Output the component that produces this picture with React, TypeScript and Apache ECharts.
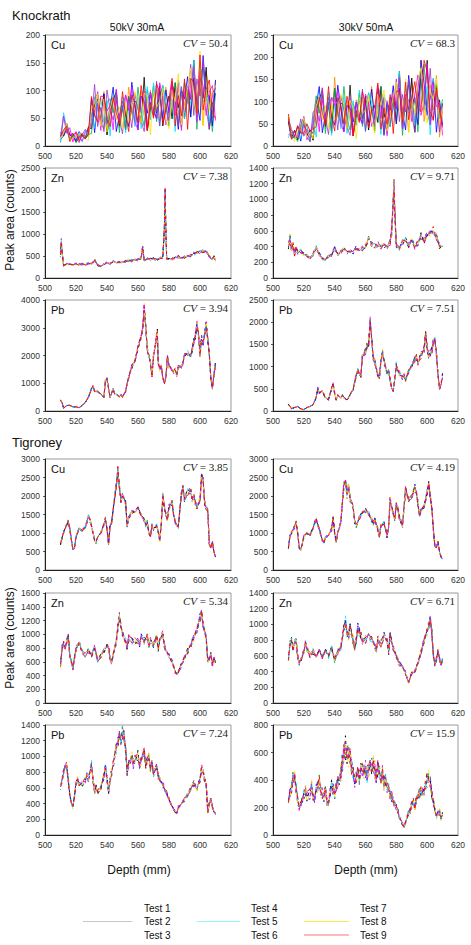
import { useEffect, useRef } from "react";
import * as echarts from "echarts";

// ---------- data ----------
const TESTS = ["Test 1", "Test 2", "Test 3", "Test 4", "Test 5", "Test 6", "Test 7", "Test 8", "Test 9"];
const TEST_COLORS = ["#ff8c00", "#000000", "#00b050", "#0000ff", "#00e0ff", "#9933cc", "#ff00ff", "#ffe000", "#ff0000"];

const X_TICKS = [500, 520, 540, 560, 580, 600, 620];

// sampling grid (depth, mm) for the noisy Knockrath Cu traces
const DEPTH_2MM = Array.from({ length: 51 }, (_, i) => 510 + 2 * i);

// Knockrath Cu, 50kV 30mA (mean trace, every 2 mm)
const KN_CU_50 = [15, 40, 25, 22, 15, 20, 15, 15, 20, 20,
  60, 65, 60, 55, 60, 68, 60, 65, 60, 55,
  60, 65, 60, 65, 60, 65, 70, 70, 75, 65,
  70, 75, 70, 70, 65, 70, 75, 70, 80, 75,
  85, 80, 90, 95, 100, 105, 100, 95, 80, 70, 70];
// Knockrath Cu, 30kV 50mA
const KN_CU_30 = [45, 25, 20, 30, 35, 40, 30, 22, 50, 78,
  80, 75, 70, 80, 75, 85, 75, 70, 80, 70,
  75, 70, 65, 75, 80, 70, 75, 80, 70, 85,
  80, 75, 70, 80, 85, 90, 100, 95, 90, 95,
  100, 95, 100, 110, 115, 110, 100, 105, 95, 80, 60];

const KN_ZN_50: number[][] = [[510, 500], [510.5, 850], [511, 600], [512, 280], [514, 300], [516, 320], [518, 290], [520, 330], [522, 300], [524, 310], [526, 290], [528, 340], [530, 320], [532, 400], [534, 300], [536, 260], [538, 310], [540, 350], [542, 320], [544, 380], [546, 340], [548, 360], [550, 350], [552, 380], [554, 400], [556, 390], [558, 420], [560, 410], [562, 450], [563, 680], [564, 420], [566, 430], [568, 420], [570, 440], [572, 420], [574, 450], [576, 460], [577, 1100], [577.5, 1900], [578, 1100], [578.5, 450], [580, 420], [582, 440], [584, 450], [586, 480], [588, 460], [590, 480], [592, 470], [594, 520], [596, 550], [598, 560], [600, 600], [602, 620], [604, 580], [606, 500], [608, 430], [609, 480], [610, 400]];
const KN_ZN_30: number[][] = [[510, 400], [511, 500], [512, 350], [513, 420], [514, 300], [515, 380], [516, 330], [518, 350], [520, 300], [522, 280], [524, 250], [526, 300], [528, 380], [530, 300], [532, 250], [534, 220], [536, 280], [538, 300], [540, 380], [542, 300], [544, 330], [546, 370], [548, 320], [550, 360], [552, 330], [554, 380], [556, 350], [558, 380], [560, 400], [562, 480], [564, 420], [566, 400], [568, 430], [570, 390], [572, 420], [574, 400], [576, 450], [577, 600], [578, 1000], [578.5, 1200], [579, 800], [580, 420], [582, 380], [584, 450], [586, 480], [588, 420], [590, 460], [592, 400], [594, 450], [596, 520], [598, 480], [600, 550], [602, 560], [604, 600], [606, 520], [608, 400], [610, 420]];
const KN_PB_50: number[][] = [[510, 400], [511, 300], [512, 100], [514, 200], [516, 200], [518, 150], [520, 150], [522, 120], [524, 200], [526, 300], [528, 500], [530, 800], [531, 900], [532, 700], [534, 700], [536, 600], [538, 500], [539, 1100], [540, 1150], [541, 800], [542, 500], [544, 800], [545, 600], [546, 600], [548, 500], [549, 600], [550, 500], [552, 700], [553, 1000], [554, 1200], [556, 1600], [558, 1800], [560, 2300], [562, 2600], [563, 3000], [564, 3700], [565, 3000], [566, 2200], [568, 1800], [569, 1200], [570, 2000], [572, 2700], [572.5, 2800], [573, 1800], [574, 1500], [575, 1600], [576, 1200], [577, 1000], [578, 1200], [579, 2000], [580, 1600], [582, 1500], [583, 1400], [584, 1500], [585, 1300], [586, 1600], [588, 1600], [589, 1700], [590, 2000], [592, 2100], [594, 2000], [595, 2200], [596, 2500], [597, 2700], [598, 3100], [599, 2800], [600, 2000], [601, 2600], [602, 2400], [603, 2800], [604, 3100], [605, 2600], [606, 2000], [607, 1200], [608, 800], [609, 1300], [610, 1700]];
const KN_PB_30: number[][] = [[510, 150], [511, 100], [512, 50], [514, 80], [516, 100], [518, 50], [520, 30], [522, 80], [524, 100], [526, 150], [528, 300], [529, 500], [530, 400], [532, 450], [534, 300], [536, 250], [538, 500], [539, 600], [540, 400], [541, 250], [542, 350], [544, 300], [545, 350], [546, 300], [548, 250], [549, 300], [550, 350], [552, 500], [554, 800], [555, 900], [556, 850], [557, 800], [558, 1200], [559, 1300], [560, 1350], [561, 1450], [562, 1500], [563, 2000], [564, 1600], [565, 1200], [566, 1100], [568, 800], [569, 750], [570, 1100], [571, 1350], [572, 1100], [574, 850], [575, 900], [576, 700], [577, 500], [578, 450], [579, 700], [580, 1050], [581, 900], [582, 850], [584, 750], [585, 800], [586, 700], [588, 900], [590, 1000], [592, 1150], [593, 1200], [594, 1100], [596, 1250], [598, 1400], [599, 1700], [600, 1450], [601, 1200], [602, 1300], [603, 1350], [604, 1550], [605, 1600], [606, 1300], [607, 800], [608, 500], [609, 600], [610, 800]];

const TI_CU_50: number[][] = [[510, 700], [512, 1000], [514, 1250], [515, 1300], [516, 1100], [518, 550], [519, 600], [520, 900], [522, 1100], [524, 1050], [526, 1150], [527, 1300], [528, 1450], [529, 1350], [530, 1200], [532, 800], [533, 750], [534, 900], [536, 1000], [538, 1200], [539, 1400], [540, 1100], [541, 700], [542, 1200], [543, 1300], [544, 1600], [546, 2300], [547, 2700], [548, 2200], [549, 1900], [550, 2000], [552, 1800], [553, 1200], [554, 1400], [556, 1550], [558, 1600], [560, 1650], [562, 1500], [564, 1350], [565, 1200], [566, 1300], [567, 1000], [568, 900], [569, 1200], [570, 1100], [572, 1200], [573, 1050], [574, 800], [575, 1200], [576, 2000], [577, 1700], [578, 1500], [579, 1350], [580, 1700], [582, 1800], [583, 1500], [584, 1300], [585, 1200], [586, 1150], [588, 2100], [589, 2200], [590, 1900], [592, 2100], [594, 2150], [595, 1900], [596, 2000], [597, 1800], [598, 1700], [600, 1900], [601, 2500], [602, 2400], [603, 1800], [604, 1700], [605, 1600], [606, 700], [607, 600], [608, 750], [609, 500], [610, 350]];
const TI_CU_30: number[][] = [[510, 600], [511, 900], [512, 1000], [514, 1150], [515, 1300], [516, 1000], [517, 600], [518, 550], [519, 700], [520, 900], [522, 1000], [524, 950], [526, 1100], [527, 1300], [528, 1350], [530, 1100], [532, 800], [533, 750], [534, 850], [536, 950], [538, 1100], [539, 1400], [540, 1000], [541, 750], [542, 1000], [543, 1150], [544, 1300], [546, 2300], [547, 2450], [548, 2000], [549, 2300], [550, 1900], [552, 1700], [553, 1300], [554, 1200], [556, 1400], [558, 1550], [560, 1600], [562, 1550], [564, 1350], [565, 1250], [566, 1350], [568, 1100], [569, 900], [570, 1200], [572, 1250], [573, 1100], [574, 900], [575, 1200], [576, 1900], [577, 1700], [578, 1500], [579, 1400], [580, 1750], [581, 1650], [582, 1400], [583, 1300], [584, 1200], [586, 2200], [587, 2000], [588, 1900], [590, 2000], [592, 2200], [593, 2050], [594, 1800], [595, 1500], [596, 1600], [598, 1700], [600, 2100], [601, 2300], [602, 2000], [603, 1700], [604, 1100], [605, 650], [606, 600], [607, 750], [608, 500], [609, 350], [610, 300]];
const TI_ZN_50: number[][] = [[510, 550], [511, 800], [512, 850], [513, 800], [514, 900], [515, 950], [516, 700], [517, 600], [518, 500], [519, 650], [520, 800], [522, 850], [524, 750], [526, 700], [528, 750], [530, 700], [532, 800], [533, 700], [534, 620], [536, 680], [538, 750], [540, 850], [541, 800], [542, 650], [543, 580], [544, 700], [546, 900], [547, 1100], [548, 1250], [549, 1100], [550, 1000], [552, 900], [553, 800], [554, 950], [556, 900], [558, 900], [560, 900], [561, 850], [562, 950], [564, 900], [566, 950], [567, 850], [568, 900], [570, 850], [572, 950], [573, 800], [574, 900], [576, 1000], [577, 850], [578, 750], [580, 700], [582, 600], [584, 450], [585, 420], [586, 450], [588, 550], [590, 650], [592, 750], [594, 850], [596, 950], [598, 1050], [600, 1250], [601, 1300], [602, 1150], [604, 950], [605, 600], [606, 650], [607, 700], [608, 550], [609, 650], [610, 600]];
const TI_ZN_30: number[][] = [[510, 550], [511, 750], [512, 800], [513, 700], [514, 750], [515, 800], [516, 600], [517, 500], [518, 550], [520, 650], [521, 750], [522, 700], [524, 600], [526, 650], [528, 600], [530, 650], [532, 600], [534, 650], [536, 600], [538, 700], [540, 550], [542, 650], [544, 700], [546, 950], [547, 1050], [548, 900], [549, 850], [550, 950], [552, 800], [553, 700], [554, 800], [555, 950], [556, 900], [557, 850], [558, 800], [560, 800], [562, 850], [564, 800], [566, 750], [567, 650], [568, 800], [570, 750], [572, 850], [574, 800], [575, 650], [576, 850], [578, 700], [580, 600], [582, 500], [584, 450], [586, 380], [587, 320], [588, 260], [590, 380], [592, 400], [594, 500], [596, 650], [598, 800], [600, 900], [601, 1000], [602, 1050], [603, 900], [604, 600], [605, 500], [606, 550], [607, 650], [608, 550], [609, 500], [610, 550]];
const TI_PB_50: number[][] = [[510, 600], [511, 700], [512, 800], [513, 850], [514, 880], [515, 700], [516, 500], [517, 420], [518, 350], [519, 500], [520, 650], [521, 700], [522, 650], [524, 650], [526, 700], [527, 750], [528, 700], [530, 900], [531, 700], [532, 550], [533, 600], [534, 550], [536, 600], [538, 750], [539, 850], [540, 700], [541, 550], [542, 700], [543, 800], [544, 900], [546, 1100], [547, 1200], [548, 1250], [549, 1200], [550, 1300], [551, 1250], [552, 1100], [553, 800], [554, 900], [555, 950], [556, 1000], [557, 900], [558, 950], [560, 1000], [561, 900], [562, 950], [564, 1050], [565, 900], [566, 950], [567, 1000], [568, 850], [569, 900], [570, 800], [572, 850], [573, 750], [574, 700], [576, 650], [578, 550], [580, 450], [582, 350], [584, 300], [585, 280], [586, 350], [588, 400], [590, 450], [592, 500], [594, 600], [596, 650], [598, 600], [600, 700], [601, 850], [602, 800], [603, 700], [604, 650], [605, 300], [606, 400], [607, 450], [608, 350], [609, 300], [610, 270]];
const TI_PB_30: number[][] = [[510, 250], [511, 300], [512, 350], [513, 400], [514, 420], [515, 350], [516, 250], [517, 200], [518, 220], [519, 250], [520, 300], [521, 320], [522, 280], [524, 300], [525, 350], [526, 280], [527, 260], [528, 320], [529, 350], [530, 380], [531, 330], [532, 300], [533, 280], [534, 320], [535, 250], [536, 220], [537, 300], [538, 350], [539, 330], [540, 300], [541, 350], [542, 380], [543, 400], [544, 450], [545, 520], [546, 580], [547, 620], [548, 600], [549, 580], [550, 560], [551, 500], [552, 440], [553, 400], [554, 420], [555, 450], [556, 430], [557, 460], [558, 470], [559, 450], [560, 480], [561, 440], [562, 470], [563, 480], [564, 500], [565, 510], [566, 470], [567, 430], [568, 480], [569, 450], [570, 420], [571, 440], [572, 380], [573, 400], [574, 350], [575, 330], [576, 300], [577, 280], [578, 250], [579, 220], [580, 200], [581, 170], [582, 130], [583, 100], [584, 80], [585, 60], [586, 90], [587, 130], [588, 160], [589, 180], [590, 220], [591, 240], [592, 200], [593, 260], [594, 280], [595, 300], [596, 320], [597, 310], [598, 330], [599, 360], [600, 400], [601, 420], [602, 380], [603, 300], [604, 250], [605, 180], [606, 130], [607, 160], [608, 170], [609, 120], [610, 150]];

// per-test relative deviations read as the scatter of each test around the mean trace
const DEV_T1 = [0.3, -0.5, 0.8, -0.2, 0.1, -0.9, 0.6, 0.2, -0.4, 1.0, -0.7, 0.0, 0.5, -0.3, 0.9, -1.0, 0.4, -0.1, 0.7, -0.6, 0.2, -0.8, 1.1, -0.2, 0.3, -0.5, 0.6, 0.0, -0.9, 0.8, -0.3, 0.5, -0.6, 0.2, 0.9, -0.4, -0.1, 0.7, -0.8, 0.4, -0.2];
const DEV_T2 = [-0.6, 0.4, -0.1, 0.9, -0.8, 0.3, -0.2, 0.7, -0.9, 0.1, 0.5, -0.4, 1.0, -0.7, 0.2, 0.6, -0.3, 0.8, -1.0, 0.0, 0.4, 0.9, -0.5, 0.3, -0.8, 0.7, -0.1, 0.5, 0.2, -0.6, 1.1, -0.9, 0.0, 0.6, -0.3, 0.8, -0.7, 0.1, 0.4, -0.5, 0.9, -0.2, 0.5];
const DEV_T3 = [0.8, 0.1, -0.7, 0.4, 0.9, -0.3, -0.8, 0.5, 0.2, -0.6, 0.7, -1.0, 0.3, 0.6, -0.2, 0.1, -0.9, 0.5, 0.8, -0.4, -0.7, 0.2, 0.6, -0.1, 1.0, -0.8, 0.3, -0.5, 0.7, 0.0, -0.4, 0.9, -0.2, -0.7, 0.5, 0.1, 0.8, -0.6, 0.3];
const DEV_T4 = [-0.2, 0.7, 0.3, -0.9, 0.5, 0.0, 0.8, -0.6, 0.4, -0.3, -0.8, 0.9, -0.1, 0.2, -0.7, 1.0, 0.3, -0.5, 0.1, 0.6, -0.9, 0.4, -0.3, 0.8, -0.6, 0.2, 0.9, -0.8, 0.0, 0.5, -0.2, -0.6, 1.1, 0.3, -0.8, 0.4, 0.2, -0.3, 0.7, -0.1, -0.5, 0.6, -0.4, 0.8];
const DEV_T5 = [0.5, -0.8, 0.0, 0.6, -0.4, 0.9, -0.1, -0.7, 0.8, 0.3, -0.5, 0.2, -0.9, 0.7, 0.4, -0.6, 0.1, -0.2, 0.9, -0.8, 0.6, -0.3, 0.0, -0.7, 0.5, 0.8, -0.4, 0.3, -1.0, 0.6, 0.2, -0.3, 0.7, -0.9, 0.1, 0.5, -0.6];
const DEV_T6 = [-0.9, 0.2, 0.6, -0.3, 0.8, -0.7, 0.4, 0.1, -0.5, 0.7, 0.2, -0.8, 0.6, -0.4, 0.0, 0.9, -0.6, 0.3, -0.2, 0.8, -0.4, -0.9, 0.5, 0.7, -0.1, -0.3, 1.0, -0.6, 0.4, -0.8, 0.7, 0.1, -0.4, 0.5, -0.1, -0.9, 0.6, 0.3, -0.7, 0.8, 0.0, -0.5];
const DEV_T7 = [0.1, 0.9, -0.4, -0.8, 0.3, 0.6, -0.9, 0.7, -0.2, -0.5, 0.9, 0.4, -0.6, -0.1, 0.8, -0.3, 0.6, -0.9, 0.2, 0.5, -0.1, 0.7, -0.8, 0.4, 0.1, -0.6, 0.3, 0.8, -0.5, -0.2, 0.9, -0.7, 0.5, -0.1, 0.3, -0.8, 1.0, -0.4, 0.2, 0.6];
const DEV_T8 = [-0.4, -0.1, 0.9, 0.2, -0.6, 0.5, 0.3, -1.0, 0.6, -0.1, 0.2, 0.7, -0.4, -0.8, 0.5, 0.2, 0.9, -0.7, -0.3, 0.4, 0.8, -0.2, -0.6, 0.9, -0.9, 0.1, -0.3, 0.6, 0.8, -0.4, -0.7, 0.3, 0.0, 0.8, -0.5, 0.6, -0.9, 0.2, 0.5, -0.3, 0.4, -0.7, 0.3];
const DEV_T9 = [0.7, -0.3, -0.6, 0.5, 0.0, -0.4, 0.9, -0.2, -0.8, 0.6, 0.4, -0.5, 0.8, 0.1, -0.9, 0.3, -0.4, 0.7, 0.5, -0.6, 0.0, 0.3, 0.9, -0.7, 0.2, -0.4, 0.6, -0.9, 0.5, 0.3, -0.6, 0.8, -0.5, 0.1, 0.7, -0.2, -0.4, 0.9];
const DEVS = [DEV_T1, DEV_T2, DEV_T3, DEV_T4, DEV_T5, DEV_T6, DEV_T7, DEV_T8, DEV_T9];

type Panel = { el: string; cv: string; max: number; interval: number; pts: number[][]; spread: number; noisy: boolean };

const PANELS: Panel[] = [
  { el: "Cu", cv: "50.4", max: 200, interval: 50, pts: DEPTH_2MM.map((d, i) => [d, KN_CU_50[i]]), spread: 0.7, noisy: true },
  { el: "Cu", cv: "68.3", max: 250, interval: 50, pts: DEPTH_2MM.map((d, i) => [d, KN_CU_30[i]]), spread: 0.75, noisy: true },
  { el: "Zn", cv: "7.38", max: 2500, interval: 500, pts: KN_ZN_50, spread: 0.08, noisy: false },
  { el: "Zn", cv: "9.71", max: 1400, interval: 200, pts: KN_ZN_30, spread: 0.1, noisy: false },
  { el: "Pb", cv: "3.94", max: 4000, interval: 1000, pts: KN_PB_50, spread: 0.05, noisy: false },
  { el: "Pb", cv: "7.51", max: 2500, interval: 500, pts: KN_PB_30, spread: 0.07, noisy: false },
  { el: "Cu", cv: "3.85", max: 3000, interval: 500, pts: TI_CU_50, spread: 0.05, noisy: false },
  { el: "Cu", cv: "4.19", max: 3000, interval: 500, pts: TI_CU_30, spread: 0.05, noisy: false },
  { el: "Zn", cv: "5.34", max: 1600, interval: 200, pts: TI_ZN_50, spread: 0.06, noisy: false },
  { el: "Zn", cv: "6.71", max: 1400, interval: 200, pts: TI_ZN_30, spread: 0.07, noisy: false },
  { el: "Pb", cv: "7.24", max: 1400, interval: 200, pts: TI_PB_50, spread: 0.07, noisy: false },
  { el: "Pb", cv: "15.9", max: 800, interval: 200, pts: TI_PB_30, spread: 0.15, noisy: false },
];

// ---------- layout ----------
const COLS = [{ left: 45, width: 186 }, { left: 273, width: 185 }];
const ROWS = [
  { top: 35, height: 111 }, { top: 168, height: 110 }, { top: 300, height: 111 },
  { top: 459, height: 111 }, { top: 593, height: 110 }, { top: 725, height: 110 },
];
const SANS = "Liberation Sans";
const SERIF = "Liberation Serif";

function seriesData(p: Panel, t: number, pi: number) {
  const dev = DEVS[t];
  return p.pts.map(([d, v], i) => [d, Math.max(0, Math.round(v * (1 + p.spread * dev[(i + pi * 7 + t * 3) % dev.length])))]);
}

export default function App() {
  const ref = useRef<HTMLDivElement>(null);
  useEffect(() => {
    if (!ref.current) return;
    const chart = echarts.init(ref.current, undefined, { renderer: "svg" });
    const boxes = PANELS.map((_, i) => ({ ...COLS[i % 2], ...ROWS[Math.floor(i / 2)] }));

    const graphic: any[] = [];
    const txt = (x: number, y: number, text: string, size: number, extra: any = {}, styleExtra: any = {}) =>
      graphic.push({ type: "text", x, y, silent: true, ...extra, style: { text, fontSize: size, fontFamily: SANS, fill: "#111", ...styleExtra } });

    txt(12, 15, "Knockrath", 13, {}, { verticalAlign: "middle" });
    txt(12, 442, "Tigroney", 13, {}, { verticalAlign: "middle" });
    txt(137, 27, "50kV 30mA", 10.5, {}, { align: "center", verticalAlign: "middle" });
    txt(366, 27, "30kV 50mA", 10.5, {}, { align: "center", verticalAlign: "middle" });
    txt(10, 220, "Peak area (counts)", 12, { rotation: Math.PI / 2 }, { align: "center", verticalAlign: "middle" });
    txt(10, 638, "Peak area (counts)", 12, { rotation: Math.PI / 2 }, { align: "center", verticalAlign: "middle" });
    txt(139, 870, "Depth (mm)", 12, {}, { align: "center", verticalAlign: "middle" });
    txt(366, 870, "Depth (mm)", 12, {}, { align: "center", verticalAlign: "middle" });

    PANELS.forEach((p, i) => {
      const b = boxes[i];
      txt(b.left + 6, b.top + 10, p.el, 11, {}, { verticalAlign: "middle" });
      graphic.push({
        type: "text", x: b.left + b.width - 3, y: b.top + 8, silent: true, z: 10,
        style: {
          text: "{i|CV} = " + p.cv, fontFamily: SERIF, fontSize: 11, fill: "#222",
          align: "right", verticalAlign: "middle",
          rich: { i: { fontFamily: SERIF, fontStyle: "italic", fontSize: 11, fill: "#222" } },
        },
      });
    });

    // legend
    const LEG_ROWS = [908, 921.5, 935];
    const LEG_TEXT_X = [144, 251, 360];
    const LEG_LINE_X = [[83, 132], [197, 240], [304, 349]];
    const LEG_LINE_OPACITY = [0, 0.22, 0, 0, 0.4, 0, 0, 0.75, 0.55];
    TESTS.forEach((name, t) => {
      const c = Math.floor(t / 3), r = t % 3;
      if (LEG_LINE_OPACITY[t] > 0) {
        graphic.push({
          type: "line", silent: true,
          shape: { x1: LEG_LINE_X[c][0], y1: LEG_ROWS[r], x2: LEG_LINE_X[c][1], y2: LEG_ROWS[r] },
          style: { stroke: TEST_COLORS[t], lineWidth: 1, opacity: LEG_LINE_OPACITY[t] },
        });
      }
      txt(LEG_TEXT_X[c], LEG_ROWS[r], name, 10, {}, { verticalAlign: "middle" });
    });

    const option: any = {
      animation: false,
      backgroundColor: "#ffffff",
      grid: boxes.map((b) => ({ left: b.left, top: b.top, width: b.width, height: b.height, show: true, borderColor: "#9a9a9a", borderWidth: 1, backgroundColor: "transparent" })),
      xAxis: PANELS.map((_, i) => ({
        type: "value", gridIndex: i, min: X_TICKS[0], max: X_TICKS[X_TICKS.length - 1], interval: 20,
        axisLine: { show: true, onZero: false, lineStyle: { color: "#222", width: 1 } },
        axisTick: { show: false }, splitLine: { show: false },
        axisLabel: { fontSize: 8.5, color: "#333", fontFamily: SANS, margin: 5, formatter: (v: number) => String(v) },
      })),
      yAxis: PANELS.map((p, i) => ({
        type: "value", gridIndex: i, min: 0, max: p.max, interval: p.interval,
        axisLine: { show: true, onZero: false, lineStyle: { color: "#222", width: 1 } },
        axisTick: { show: true, length: 2, lineStyle: { color: "#555" } }, splitLine: { show: false },
        axisLabel: { fontSize: 8.5, color: "#333", fontFamily: SANS, margin: 5, formatter: (v: number) => String(v) },
      })),
      series: PANELS.flatMap((p, pi) => TESTS.map((name, t) => ({
        type: "line", name, xAxisIndex: pi, yAxisIndex: pi, data: seriesData(p, t, pi),
        symbol: "none", showSymbol: false, silent: true, clip: true,
        color: TEST_COLORS[t],
        lineStyle: p.noisy
          ? { width: 0.8, color: TEST_COLORS[t] }
          : { width: 0.9, color: TEST_COLORS[t], type: [3, 4], dashOffset: t * 0.8 },
      }))),
      graphic,
    };
    chart.setOption(option);
    return () => chart.dispose();
  }, []);

  return <div ref={ref} style={{ position: "absolute", left: 0, top: 0, width: 471, height: 945, background: "#fff" }} />;
}
